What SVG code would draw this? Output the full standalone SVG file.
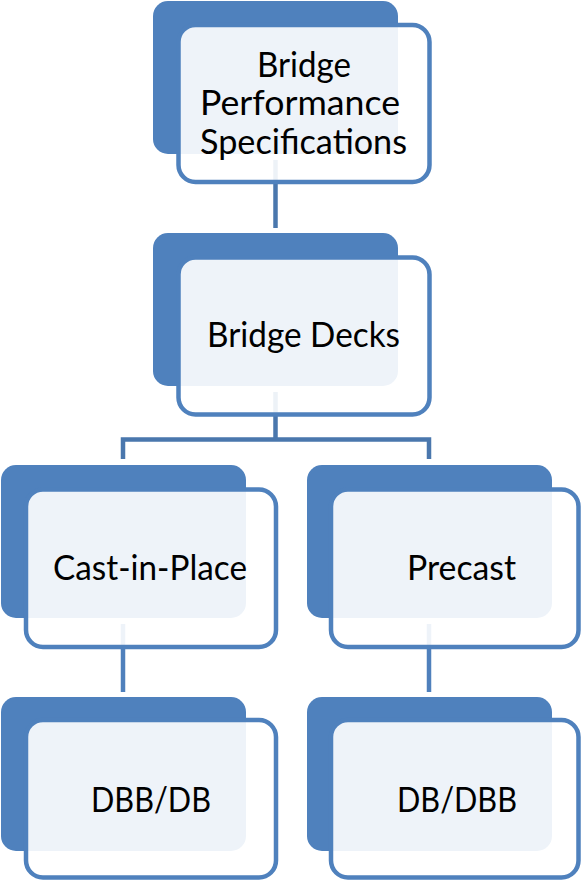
<svg xmlns="http://www.w3.org/2000/svg" width="581" height="881" viewBox="0 0 581 881">
<style>
.back{fill:#4F81BD;}
.front{fill:#FFFFFF;fill-opacity:0.9;stroke:#4F81BD;stroke-width:4.5;}
.conn{fill:none;stroke:#4A77AD;stroke-width:4.5;}
.conn2{fill:none;stroke:#4F80BC;stroke-width:4.5;}
.lbl{font-family:Lato,"Open Sans","Liberation Sans",sans-serif;font-size:35px;fill:#000000;text-anchor:middle;}
</style>
<rect width="581" height="881" fill="#FFFFFF"/>
<g id="connectors">
<path class="conn" d="M275.5,160 V228"/>
<path class="conn" d="M275.5,392 V439.5 M123,459 V439.5 H429 V459"/>
<path class="conn2" d="M123,624 V692"/>
<path class="conn2" d="M429,624 V692"/>
</g>
<g id="node-bps">
<rect class="back" x="153" y="1" width="245" height="153" rx="15"/>
<rect class="front" x="178.5" y="25" width="251" height="157" rx="17"/>
<text class="lbl" x="304" y="76.5" textLength="94" lengthAdjust="spacingAndGlyphs">Bridge</text>
<text class="lbl" x="300" y="115" textLength="200" lengthAdjust="spacingAndGlyphs">Performance</text>
<text class="lbl" x="303.5" y="154" textLength="207" lengthAdjust="spacingAndGlyphs">Specifications</text>
</g>
<g id="node-decks">
<rect class="back" x="153" y="233" width="245" height="153" rx="15"/>
<rect class="front" x="178.5" y="257.5" width="251" height="157" rx="17"/>
<text class="lbl" x="303.5" y="347" textLength="193" lengthAdjust="spacingAndGlyphs">Bridge Decks</text>
</g>
<g id="node-cip">
<rect class="back" x="1" y="465" width="245" height="153" rx="15"/>
<rect class="front" x="26" y="489.5" width="250" height="157.5" rx="17"/>
<text class="lbl" x="150" y="580" textLength="194" lengthAdjust="spacingAndGlyphs">Cast-in-Place</text>
</g>
<g id="node-precast">
<rect class="back" x="307" y="465" width="245" height="153" rx="15"/>
<rect class="front" x="331" y="489.5" width="247.5" height="157.5" rx="17"/>
<text class="lbl" x="461.5" y="580" textLength="109" lengthAdjust="spacingAndGlyphs">Precast</text>
</g>
<g id="node-dbbdb">
<rect class="back" x="1" y="697" width="245" height="154" rx="15"/>
<rect class="front" x="26" y="720" width="250" height="157.5" rx="17"/>
<text class="lbl" x="151" y="812" textLength="120" lengthAdjust="spacingAndGlyphs">DBB/DB</text>
</g>
<g id="node-dbdbb">
<rect class="back" x="307" y="697" width="245" height="154" rx="15"/>
<rect class="front" x="331" y="720" width="247.5" height="157.5" rx="17"/>
<text class="lbl" x="457" y="812" textLength="120" lengthAdjust="spacingAndGlyphs">DB/DBB</text>
</g>
</svg>
